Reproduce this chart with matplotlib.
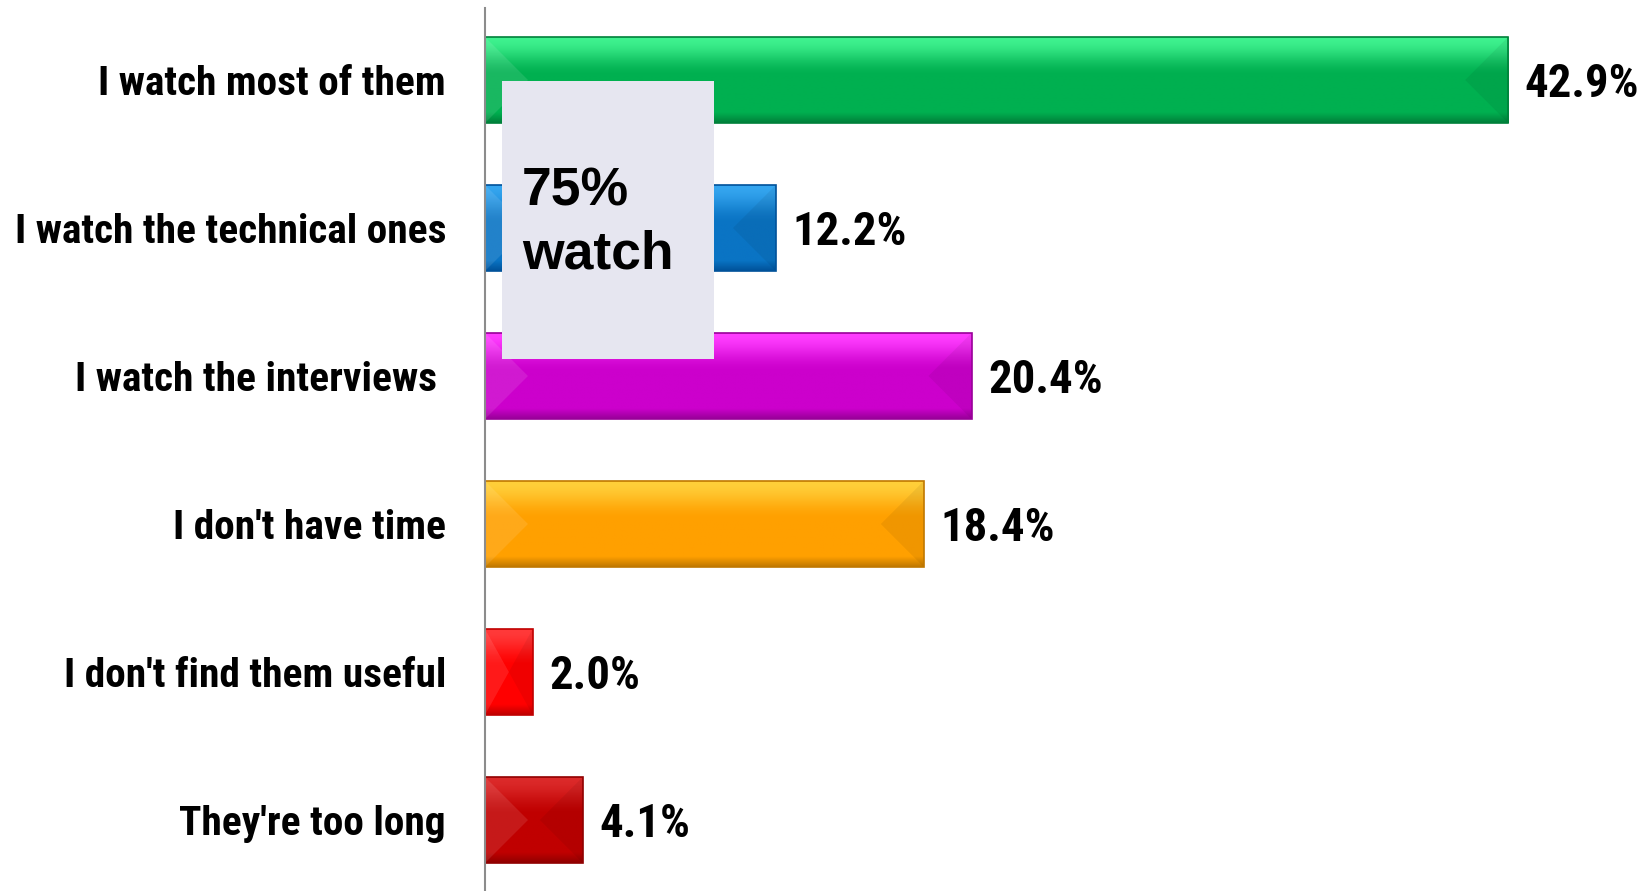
import numpy as np
import matplotlib
matplotlib.use("Agg")
import matplotlib.pyplot as plt
from matplotlib.patches import Rectangle, Polygon
from matplotlib.colors import to_rgb

# survey answers and their share of respondents (%)
answers = ["I watch most of them", "I watch the technical ones",
           "I watch the interviews ", "I don't have time",
           "I don't find them useful", "They're too long"]
shares = [42.9, 12.2, 20.4, 18.4, 2.0, 4.1]

# bar colours: light top, main body, darker outline
tops = ["#3ff28f", "#35a6f0", "#ff3dff", "#ffcf3a", "#ff3a3a", "#dc2a2a"]
bodies = ["#00b050", "#0a74c4", "#cc00cc", "#ffa000", "#ff0000", "#c00000"]
edges = ["#00803a", "#00529a", "#990099", "#c07800", "#c00000", "#900000"]

callout = "75%\nwatch"

W, H = 1645, 891
narrow = ["Roboto Condensed", "Archivo Narrow", "Open Sans Condensed", "DejaVu Sans"]

fig = plt.figure(figsize=(W / 100, H / 100), dpi=100)
ax = fig.add_axes([485 / W, 0, 1 - 485 / W, 883 / H])

px_x = 23.85   # pixels per percent
px_y = 148.0   # pixels per category
bar_h = 86 / px_y

ax.set_xlim(0, (W - 485) / px_x)
ax.set_ylim((H - 80) / px_y, -72 / px_y)


def gradient(top, body, edge, n=120):
    t = np.linspace(0, 1, n)[:, None]
    top, body, edge = np.array(to_rgb(top)), np.array(to_rgb(body)), np.array(to_rgb(edge))
    k = np.clip(t / 0.45, 0, 1)
    k = k * k * (3 - 2 * k)
    col = top * (1 - k) + body * k
    b = np.clip((t - 0.88) / 0.12, 0, 1)
    col = col * (1 - b) + edge * b
    return col[:, None, :].repeat(2, axis=1)


for i, (v, c0, c1, c2) in enumerate(zip(shares, tops, bodies, edges)):
    rect = ax.barh(i, v, height=bar_h, color=c1, linewidth=0, zorder=2)[0]
    img = ax.imshow(gradient(c0, c1, c2), extent=(0, v, i + bar_h / 2, i - bar_h / 2),
                    origin="upper", aspect="auto", interpolation="bilinear", zorder=2.5)
    img.set_clip_path(rect)
    d = min(bar_h / 2 * px_y / px_x, v / 2)
    top_y, bot_y = i - bar_h / 2, i + bar_h / 2
    ax.add_patch(Polygon([(0, top_y), (d, i), (0, bot_y)], closed=True,
                         facecolor="white", alpha=0.10, linewidth=0, zorder=3))
    ax.add_patch(Polygon([(v, top_y), (v - d, i), (v, bot_y)], closed=True,
                         facecolor="black", alpha=0.06, linewidth=0, zorder=3))
    ax.add_patch(Rectangle((0, top_y), v, bar_h, fill=False, edgecolor=c2,
                           linewidth=1.2, zorder=3.5))
    ax.annotate(f"{v:.1f}%", (v, i), xytext=(12, -3), textcoords="offset points",
                va="center", ha="left", fontsize=33.7, fontweight="bold", family=narrow)

ax.set_yticks(range(len(answers)))
ax.set_yticklabels(answers, fontsize=29.8, fontweight="bold", family=narrow)
ax.tick_params(axis="y", length=0, pad=28)
ax.set_xticks([])
for s in ["top", "right", "bottom"]:
    ax.spines[s].set_visible(False)
ax.spines["left"].set_color("#8c8c8c")
ax.spines["left"].set_linewidth(1.5)
ax.spines["left"].set_zorder(4)

# callout box over the first bars
fig.add_artist(Rectangle((502 / W, (H - 359) / H), 212 / W, 278 / H,
                         transform=fig.transFigure, facecolor="#e6e6f0",
                         edgecolor="none", zorder=5))
fig.text(522 / W, (H - 223) / H, callout, ha="left", va="center", fontsize=38.5,
         fontweight="bold", family=["Liberation Sans", "DejaVu Sans"],
         linespacing=1.32, zorder=6)

fig.savefig("out.png", dpi=100)
